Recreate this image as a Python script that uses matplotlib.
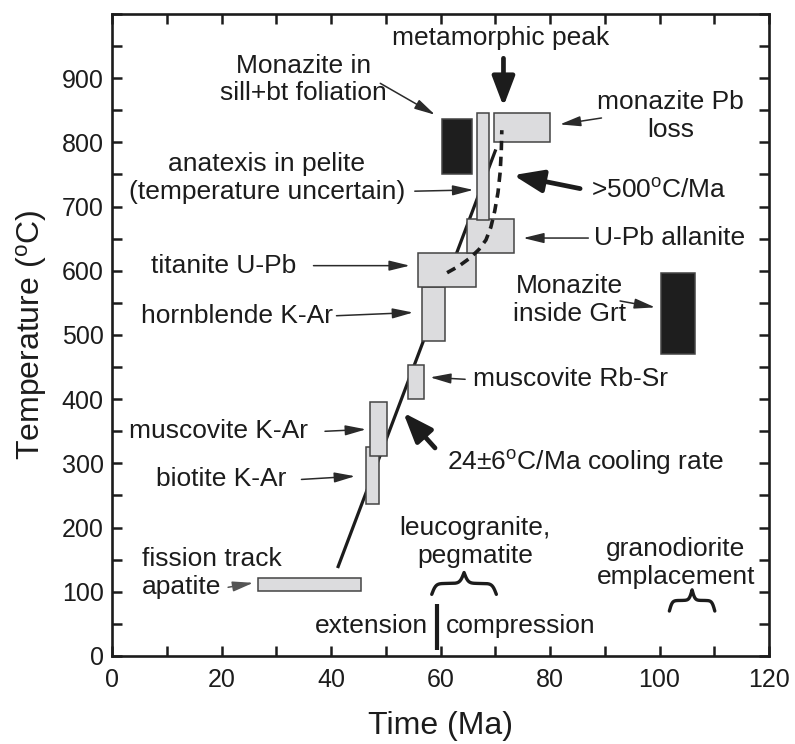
import numpy as np
import matplotlib
matplotlib.use("Agg")
import matplotlib.pyplot as plt
from matplotlib.patches import Rectangle

plt.rcParams['font.family'] = ['Liberation Sans', 'DejaVu Sans']
plt.rcParams['mathtext.fontset'] = 'custom'
plt.rcParams['mathtext.rm'] = 'Liberation Sans'
plt.rcParams['mathtext.it'] = 'Liberation Sans'

# age boxes: time range (Ma) and temperature range (C)
box_name = ["fission track apatite", "biotite K-Ar", "muscovite K-Ar",
            "muscovite Rb-Sr", "hornblende K-Ar", "titanite U-Pb",
            "U-Pb allanite", "anatexis", "monazite Pb loss",
            "monazite sill+bt", "monazite in Grt"]
box_t0 = [26.7, 46.3, 47.2, 54.0, 56.6, 55.9, 64.9, 66.7, 69.8, 60.3, 100.2]
box_t1 = [45.4, 48.8, 50.3, 57.0, 60.8, 66.4, 73.4, 68.9, 80.0, 65.7, 106.4]
box_T0 = [102, 236, 312, 401, 490, 575, 628, 679, 800, 751, 471]
box_T1 = [122, 325, 396, 454, 575, 628, 681, 846, 846, 836, 596]
box_kind = ["age"] * 9 + ["monazite"] * 2

# cooling path 24+-6 C/Ma
cool_t = [41.2, 70.1]
cool_T = [137, 789]

# fast cooling path >500 C/Ma
fast_t = [61.2, 63.3, 65.4, 67.0, 68.3, 69.2, 69.9, 70.5, 70.9, 71.1, 71.2]
fast_T = [597, 607, 620, 633, 648, 668, 693, 722, 754, 787, 819]

# tectonic events
split_t = 59.3
leuco_t = [58.4, 70.2]
grano_t = [101.8, 110.1]

fig = plt.figure(figsize=(7.95, 7.44), dpi=100)
ax = fig.add_axes([0.1409, 0.1183, 0.8264, 0.8629])
ink = '#1c1c1c'

ax.plot(cool_t, cool_T, color=ink, lw=2.3, solid_capstyle='butt', zorder=1)

for t0, t1, T0, T1, kind in zip(box_t0, box_t1, box_T0, box_T1, box_kind):
    fc = '#dcdcde' if kind == "age" else '#1e1e1e'
    ax.add_patch(Rectangle((t0, T0), t1 - t0, T1 - T0, facecolor=fc,
                           edgecolor='#444444', lw=1.1, zorder=2))

ax.plot(fast_t, fast_T, color=ink, lw=2.6, dashes=(2.6, 1.8), zorder=3)

# extension | compression boundary
ax.plot([split_t, split_t], [10, 81], color=ink, lw=3, solid_capstyle='butt')


def brace(x0, x1, ybase, height):
    half = (x1 - x0) / 2
    u = np.linspace(0, 1, 200)
    beta = 16
    y = 1 / (1 + np.exp(-beta * u)) + 1 / (1 + np.exp(-beta * (u - 1)))
    y = (y - 0.5) * height
    xs = np.concatenate([x0 + u * half, x1 - u[::-1] * half])
    ys = np.concatenate([y, y[::-1]])
    ax.plot(xs, ybase + ys, color=ink, lw=2.4, solid_capstyle='round')


brace(leuco_t[0], leuco_t[1], 96, 34)
brace(grano_t[0], grano_t[1], 70, 33)

fs = 19
thin = dict(arrowstyle='-|>,head_length=0.9,head_width=0.22', lw=1.1,
            color='#2a2a2a', shrinkA=0, shrinkB=0, mutation_scale=14)
thick = dict(arrowstyle='-|>,head_length=1.0,head_width=0.38', lw=3.4,
             color=ink, shrinkA=0, shrinkB=0, mutation_scale=18)

ax.text(35.0, 898, "Monazite in\nsill+bt foliation", ha='center', va='center',
        fontsize=fs, color=ink, linespacing=1.2)
ax.annotate("", xy=(59.0, 843), xytext=(49.0, 892), arrowprops=thin)

ax.text(28.3, 744, "anatexis in pelite\n(temperature uncertain)", ha='center',
        va='center', fontsize=fs, color=ink, linespacing=1.2)
ax.annotate("", xy=(66.0, 726), xytext=(55.3, 724), arrowprops=thin)

ax.text(70.9, 962, "metamorphic peak", ha='center', va='center', fontsize=fs,
        color=ink)
ax.annotate("", xy=(71.5, 856), xytext=(71.5, 931), arrowprops=thick)

ax.text(102.0, 841, "monazite Pb\nloss", ha='center', va='center', fontsize=fs,
        color=ink, linespacing=1.2)
ax.annotate("", xy=(81.8, 828), xytext=(89.4, 838), arrowprops=thin)

ax.text(99.9, 725, r">500$^{\rm o}$C/Ma", ha='center', va='center',
        fontsize=fs, color=ink)
ax.annotate("", xy=(73.3, 749), xytext=(85.5, 728), arrowprops=thick)

ax.text(101.9, 651, "U-Pb allanite", ha='center', va='center', fontsize=fs,
        color=ink)
ax.annotate("", xy=(75.1, 651), xytext=(87.0, 651), arrowprops=thin)

ax.text(20.3, 608, "titanite U-Pb", ha='center', va='center', fontsize=fs,
        color=ink)
ax.annotate("", xy=(54.4, 608), xytext=(36.8, 608), arrowprops=thin)

ax.text(22.9, 530, "hornblende K-Ar", ha='center', va='center', fontsize=fs,
        color=ink)
ax.annotate("", xy=(55.0, 535), xytext=(41.0, 530), arrowprops=thin)

ax.text(83.5, 555, "Monazite\ninside Grt", ha='center', va='center',
        fontsize=fs, color=ink, linespacing=1.2)
ax.annotate("", xy=(99.2, 543), xytext=(92.8, 553), arrowprops=thin)

ax.text(83.7, 431, "muscovite Rb-Sr", ha='center', va='center', fontsize=fs,
        color=ink)
ax.annotate("", xy=(58.1, 434), xytext=(64.5, 431), arrowprops=thin)

ax.text(86.5, 301, r"24$\pm$6$^{\rm o}$C/Ma cooling rate", ha='center',
        va='center', fontsize=fs, color=ink)
ax.annotate("", xy=(53.2, 379), xytext=(59.0, 324), arrowprops=thick)

ax.text(19.4, 350, "muscovite K-Ar", ha='center', va='center', fontsize=fs,
        color=ink)
ax.annotate("", xy=(46.4, 353), xytext=(38.9, 350), arrowprops=thin)

ax.text(20.0, 275, "biotite K-Ar", ha='center', va='center', fontsize=fs,
        color=ink)
ax.annotate("", xy=(44.4, 280), xytext=(34.6, 275), arrowprops=thin)

ax.text(5.4, 129, "fission track\napatite", ha='left', va='center',
        fontsize=fs, color=ink, linespacing=1.2)
ax.annotate("", xy=(25.8, 114), xytext=(21.2, 107),
            arrowprops=dict(thin, color='#555555'))

ax.text(66.3, 177, "leucogranite,\npegmatite", ha='center', va='center',
        fontsize=fs, color=ink, linespacing=1.2)
ax.text(103.0, 145, "granodiorite\nemplacement", ha='center', va='center',
        fontsize=fs, color=ink, linespacing=1.2)
ax.text(57.8, 47, "extension", ha='right', va='center', fontsize=fs, color=ink)
ax.text(61.0, 47, "compression", ha='left', va='center', fontsize=fs, color=ink)

ax.set_xlim(0, 120)
ax.set_ylim(0, 1000)
ax.set_xticks(np.arange(0, 121, 20))
ax.set_xticks(np.arange(0, 121, 10), minor=True)
ax.set_yticks(np.arange(0, 901, 100))
ax.set_yticks(np.arange(0, 1001, 50), minor=True)
for which in ('major', 'minor'):
    ax.tick_params(which=which, direction='in', length=7, width=1.8,
                   top=True, right=True, color=ink)
ax.tick_params(axis='x', labelsize=18, pad=9, labelcolor=ink)
ax.tick_params(axis='y', labelsize=18, pad=6, labelcolor=ink)
for s in ax.spines.values():
    s.set_linewidth(1.9)
    s.set_color(ink)

ax.set_xlabel("Time (Ma)", fontsize=23, labelpad=13, color=ink)
ax.set_ylabel(r"Temperature ($^{\rm o}$C)", fontsize=23, labelpad=9,
              color=ink)

fig.savefig("out.png", dpi=100)
